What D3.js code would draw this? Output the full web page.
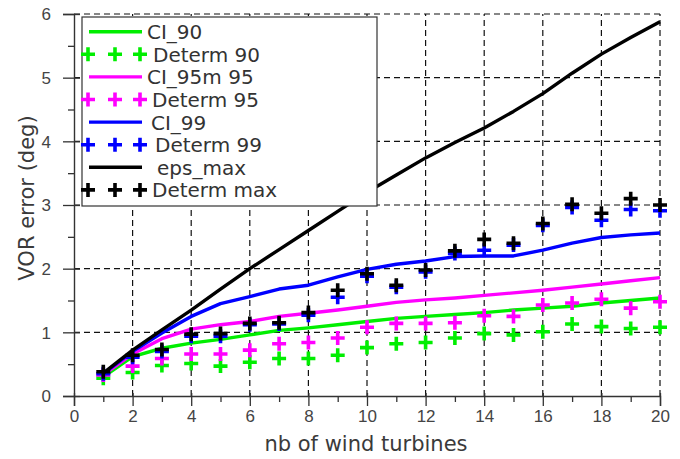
<!DOCTYPE html>
<html>
<head>
<meta charset="utf-8">
<script src="https://cdn.jsdelivr.net/npm/d3@7"></script>
<style>
html,body{margin:0;padding:0;background:#fff;}
svg{display:block;}
</style>
</head>
<body>
<svg id="chart" width="680" height="459"></svg>
<script>
const turbines = d3.range(1, 21);
const ci90   = [0.30,0.62,0.75,0.83,0.89,0.96,1.03,1.07,1.12,1.17,1.22,1.25,1.28,1.31,1.35,1.38,1.41,1.46,1.50,1.54];
const ci95   = [0.33,0.66,0.90,1.05,1.12,1.17,1.25,1.30,1.35,1.41,1.47,1.51,1.54,1.58,1.62,1.66,1.71,1.76,1.81,1.86];
const ci99   = [0.35,0.70,0.99,1.25,1.45,1.56,1.68,1.74,1.87,1.99,2.07,2.12,2.19,2.20,2.20,2.29,2.40,2.49,2.53,2.56];
const epsMax = [0.36,0.72,1.04,1.35,1.68,2.00,2.30,2.60,2.90,3.20,3.47,3.74,3.98,4.21,4.47,4.75,5.07,5.37,5.63,5.88];
const det90  = [0.28,0.37,0.48,0.51,0.47,0.53,0.59,0.59,0.64,0.76,0.82,0.84,0.91,0.98,0.96,1.01,1.13,1.09,1.06,1.08];
const det95  = [0.33,0.47,0.59,0.66,0.66,0.72,0.82,0.84,0.91,1.08,1.14,1.14,1.15,1.26,1.25,1.43,1.46,1.52,1.38,1.48];
const det99  = [0.35,0.61,0.70,0.94,0.94,1.12,1.13,1.27,1.55,1.88,1.71,1.95,2.24,2.29,2.37,2.68,2.96,2.76,2.93,2.91];
const detMax = [0.38,0.64,0.73,0.97,0.98,1.14,1.15,1.31,1.66,1.92,1.74,1.98,2.28,2.46,2.40,2.71,3.01,2.87,3.10,3.00];

const xTicks = [0,2,4,6,8,10,12,14,16,18,20];
const yTicks = [0,1,2,3,4,5,6];
const xLabel = "nb of wind turbines";
const yLabel = "VOR error (deg)";

const seriesList = [
  {name:"CI_90",      type:"line",   color:"#00ee00", values:ci90},
  {name:"Determ 90",  type:"marker", color:"#00ee00", values:det90},
  {name:"CI_95m 95",  type:"line",   color:"#ff00ff", values:ci95},
  {name:"Determ 95",  type:"marker", color:"#ff00ff", values:det95},
  {name:"CI_99",      type:"line",   color:"#0000ff", values:ci99},
  {name:"Determ 99",  type:"marker", color:"#0000ff", values:det99},
  {name:"eps_max",    type:"line",   color:"#000000", values:epsMax},
  {name:"Determ max", type:"marker", color:"#000000", values:detMax}
];

const svg = d3.select("#chart");
const L = 74, R = 660, T = 14, B = 396;
const x = d3.scaleLinear().domain([0,20]).range([L,R]);
const y = d3.scaleLinear().domain([0,6]).range([B,T]);

// grid
const grid = svg.append("g").attr("stroke","#111").attr("stroke-width",1.2).attr("stroke-dasharray","6,4");
xTicks.filter(v=>v>0).forEach(v=>{
  grid.append("line").attr("x1",x(v)).attr("x2",x(v)).attr("y1",B).attr("y2",T);
});
yTicks.filter(v=>v>0).forEach(v=>{
  grid.append("line").attr("x1",L).attr("x2",R).attr("y1",y(v)).attr("y2",y(v));
});

// series
const plus = "M-7,0H7M0,-7V7";
const lineGen = d3.line().x((d,i)=>x(turbines[i])).y(d=>y(d));
seriesList.forEach(s=>{
  if (s.type==="line") {
    svg.append("path").datum(s.values).attr("d",lineGen)
      .attr("fill","none").attr("stroke",s.color).attr("stroke-width",3.4)
      .attr("stroke-linejoin","round");
  } else {
    svg.append("g").selectAll("path").data(s.values).join("path")
      .attr("transform",(d,i)=>`translate(${x(turbines[i])},${y(d)})`)
      .attr("d",plus).attr("stroke",s.color).attr("stroke-width",3.6).attr("fill","none");
  }
});

// axes
const axCol = "#333";
const xMajor = d3.axisBottom(x).tickValues(xTicks).tickSize(10).tickPadding(2).tickFormat(d3.format("d"));
const gx = svg.append("g").attr("transform",`translate(0,${B})`).call(xMajor);
gx.selectAll(".tick line").attr("y1",-3);
const xMinor = d3.axisBottom(x).tickValues(d3.range(1,20,2)).tickSize(6).tickFormat("");
const gxm = svg.append("g").attr("transform",`translate(0,${B})`).call(xMinor);
gxm.select(".domain").remove();

const yMajor = d3.axisLeft(y).tickValues(yTicks).tickSize(11).tickPadding(12).tickFormat(d3.format("d"));
const gy = svg.append("g").attr("transform",`translate(${L},0)`).call(yMajor);
gy.selectAll(".tick line").attr("x1",6);
const yMinor = d3.axisLeft(y).tickValues(d3.range(0.5,6,1)).tickSize(6).tickFormat("");
const gym = svg.append("g").attr("transform",`translate(${L},0)`).call(yMinor);
gym.select(".domain").remove();

[gx,gxm,gy,gym].forEach(g=>{
  g.selectAll(".domain").attr("stroke",axCol).attr("stroke-width",1.4);
  g.selectAll(".tick line").attr("stroke",axCol).attr("stroke-width",1.3);
  g.selectAll("text").attr("fill","#444").attr("font-family","Liberation Sans, Arial, sans-serif").attr("font-size",17);
});
gx.selectAll("text").attr("dy","0.8em");
gy.selectAll("text").attr("dy","0.35em");

// axis labels
svg.append("text").attr("x",366).attr("y",451).attr("text-anchor","middle")
  .attr("font-family","DejaVu Sans, sans-serif").attr("font-size",21).attr("fill","#3a3a3a").text(xLabel);
svg.append("text").attr("transform","translate(34,198) rotate(-90)").attr("text-anchor","middle")
  .attr("font-family","DejaVu Sans, sans-serif").attr("font-size",21).attr("fill","#3a3a3a").text(yLabel);

// legend
const lg = svg.append("g");
lg.append("rect").attr("x",82).attr("y",17).attr("width",295).attr("height",189)
  .attr("fill","#fff").attr("stroke","#333").attr("stroke-width",1.2);
const textX = [147,153,147,152,151,155,157,152];
seriesList.forEach((s,i)=>{
  const yy = 31.7 + 22.6*i;
  if (s.type==="line") {
    lg.append("line").attr("x1",89).attr("x2",142).attr("y1",yy).attr("y2",yy)
      .attr("stroke",s.color).attr("stroke-width",3.4);
  } else {
    [88,115,140].forEach(px=>{
      lg.append("path").attr("transform",`translate(${px},${yy})`).attr("d",plus)
        .attr("stroke",s.color).attr("stroke-width",3.6).attr("fill","none");
    });
  }
  lg.append("text").attr("x",textX[i]).attr("y",yy+7.5)
    .attr("font-family","DejaVu Sans, sans-serif").attr("font-size",20).attr("fill","#333").text(s.name);
});
</script>
</body>
</html>
